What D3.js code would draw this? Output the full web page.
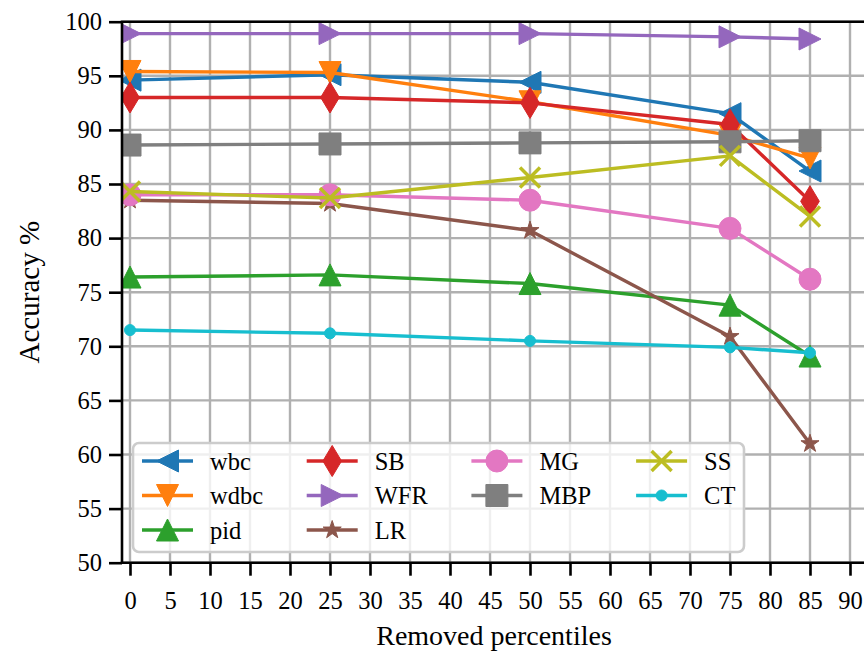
<!DOCTYPE html>
<html><head><meta charset="utf-8">
<script src="https://cdn.jsdelivr.net/npm/d3@7"></script>
<style>html,body{margin:0;padding:0;background:#fff;}svg{display:block;}</style>
</head><body>
<svg id="chart" width="864" height="658"></svg>
<script>
const percentiles = [0, 25, 50, 75, 85];
const seriesNames = ["wbc","wdbc","pid","SB","WFR","LR","MG","MBP","SS","CT"];
const wbc  = [94.6, 95.1, 94.4, 91.5, 86.2];
const wdbc = [95.4, 95.3, 92.6, 89.5, 87.4];
const pid  = [76.4, 76.6, 75.8, 73.8, 69.1];
const SB   = [93.0, 93.0, 92.5, 90.5, 83.4];
const WFR  = [98.9, 98.9, 98.9, 98.6, 98.4];
const LR   = [83.5, 83.2, 80.7, 70.9, 61.0];
const MG   = [84.0, 84.0, 83.5, 80.9, 76.2];
const MBP  = [88.6, 88.7, 88.8, 88.9, 89.0];
const SS   = [84.3, 83.7, 85.6, 87.6, 82.0];
const CT   = [71.5, 71.2, 70.5, 69.9, 69.4];
const seriesValues = [wbc, wdbc, pid, SB, WFR, LR, MG, MBP, SS, CT];
const colors = ["#1f77b4","#ff7f0e","#2ca02c","#d62728","#9467bd","#8c564b","#e377c2","#7f7f7f","#bcbd22","#17becf"];
const markers = ["tl","tdown","tup","thin","tr","star","circle","square","x","point"];
const xTicks = d3.range(0, 91, 5);
const yTicks = d3.range(50, 101, 5);
// legend layout: columns hold 3,3,2,2 entries (column-major)
const legendCols = [[0,1,2],[3,4,5],[6,7],[8,9]];

const svg = d3.select("#chart");
const L = 122, T = 21.7, B = 562.7, R = 870;
const x = d3.scaleLinear().domain([-1, 92.5]).range([L, R]);
const y = d3.scaleLinear().domain([50, 100]).range([B, T]);
const FONT = "'Liberation Serif','Times New Roman',serif";

svg.append("defs").append("clipPath").attr("id","clip")
  .append("rect").attr("x",L).attr("y",T).attr("width",R-L).attr("height",B-T);

// grid
const grid = svg.append("g");
grid.selectAll(".gx").data(xTicks).join("line")
  .attr("x1",d=>x(d)).attr("x2",d=>x(d)).attr("y1",T).attr("y2",B)
  .attr("stroke","#b0b0b0").attr("stroke-width",2.4);
grid.selectAll(".gy").data(yTicks).join("line")
  .attr("x1",L).attr("x2",R).attr("y1",d=>y(d)).attr("y2",d=>y(d))
  .attr("stroke","#b0b0b0").attr("stroke-width",2.4);

// marker paths
function markerPath(type, ms){
  const h = ms/2;
  switch(type){
    case "tup": return `M0,${-h}L${h},${h}L${-h},${h}Z`;
    case "tdown": return `M0,${h}L${h},${-h}L${-h},${-h}Z`;
    case "tl": return `M${-h},0L${h},${-h}L${h},${h}Z`;
    case "tr": return `M${h},0L${-h},${-h}L${-h},${h}Z`;
    case "thin": { const v = ms*0.7071, w = v*0.6; return `M0,${-v}L${w},0L0,${v}L${-w},0Z`; }
    case "square": return `M${-h},${-h}H${h}V${h}H${-h}Z`;
    case "circle": return d3.symbol(d3.symbolCircle, Math.PI*h*h)();
    case "point": { const r = ms/4; return d3.symbol(d3.symbolCircle, Math.PI*r*r)(); }
    case "star": {
      const ro = ms/2, ri = ro*0.381966; let p = "";
      for(let i=0;i<10;i++){ const r = i%2?ri:ro; const a = -Math.PI/2 + i*Math.PI/5;
        p += (i?"L":"M") + (r*Math.cos(a)).toFixed(2) + "," + (r*Math.sin(a)).toFixed(2); }
      return p+"Z";
    }
    case "x": return `M${-h},${-h}L${h},${h}M${-h},${h}L${h},${-h}`;
  }
}
const msizes = {tup:22,tdown:22,tl:22,tr:22,thin:22,square:22,circle:22,point:22,star:19,x:20};
function drawMarker(g, type, color, cx, cy){
  const p = g.append("path").attr("d", markerPath(type, msizes[type]))
    .attr("transform", `translate(${cx},${cy})`);
  if(type === "x") p.attr("fill","none").attr("stroke",color).attr("stroke-width",3.5);
  else p.attr("fill",color).attr("stroke",color).attr("stroke-width",1);
}

const plot = svg.append("g").attr("clip-path","url(#clip)");
const line = d3.line().x((d,i)=>x(percentiles[i])).y(d=>y(d));
seriesValues.forEach((vals, s) => {
  const g = plot.append("g");
  g.append("path").datum(vals).attr("d", line).attr("fill","none")
    .attr("stroke", colors[s]).attr("stroke-width", 3.4).attr("stroke-linejoin","round");
  vals.forEach((v,i) => drawMarker(g, markers[s], colors[s], x(percentiles[i]), y(v)));
});

// spines
svg.append("line").attr("x1",L).attr("x2",L).attr("y1",T).attr("y2",B).attr("stroke","#000").attr("stroke-width",2.6);
svg.append("line").attr("x1",L-1.3).attr("x2",R).attr("y1",T).attr("y2",T).attr("stroke","#000").attr("stroke-width",2.6);
svg.append("line").attr("x1",L-1.3).attr("x2",R).attr("y1",B).attr("y2",B).attr("stroke","#000").attr("stroke-width",2.6);

// axes
const xAxis = d3.axisBottom(x).tickValues(xTicks).tickSize(13).tickPadding(16).tickSizeOuter(0);
const gx = svg.append("g").attr("transform",`translate(0,${B})`).call(xAxis);
const yAxis = d3.axisLeft(y).tickValues(yTicks).tickSize(13).tickPadding(7).tickSizeOuter(0);
const gy = svg.append("g").attr("transform",`translate(${L},0)`).call(yAxis);
[gx, gy].forEach(g => {
  g.select(".domain").remove();
  g.selectAll(".tick line").attr("stroke","#000").attr("stroke-width",2.6);
  g.selectAll(".tick text").attr("font-family",FONT).attr("font-size",24.5).attr("fill","#000");
});

svg.append("text").attr("x", 494).attr("y", 645).attr("text-anchor","middle")
  .attr("font-family",FONT).attr("font-size",28).text("Removed percentiles");
svg.append("text").attr("transform",`translate(39,${(T+B)/2}) rotate(-90)`).attr("text-anchor","middle")
  .attr("font-family",FONT).attr("font-size",29).text("Accuracy %");

// legend
const lg = svg.append("g");
lg.append("rect").attr("x",133).attr("y",443).attr("width",611).attr("height",109).attr("rx",6)
  .attr("fill","#fff").attr("fill-opacity",0.8).attr("stroke","#cccccc").attr("stroke-width",2.6);
legendCols.forEach((col, c) => col.forEach((s, row) => {
  const hx = 142 + c*164.7, hy = 461 + row*34.5;
  lg.append("line").attr("x1",hx).attr("x2",hx+51).attr("y1",hy).attr("y2",hy)
    .attr("stroke",colors[s]).attr("stroke-width",3.4);
  drawMarker(lg, markers[s], colors[s], hx+25.5, hy);
  lg.append("text").attr("x",hx+68).attr("y",hy+8.5).attr("font-family",FONT).attr("font-size",24.5)
    .attr("fill","#000").text(seriesNames[s]);
}));
</script>
</body></html>
